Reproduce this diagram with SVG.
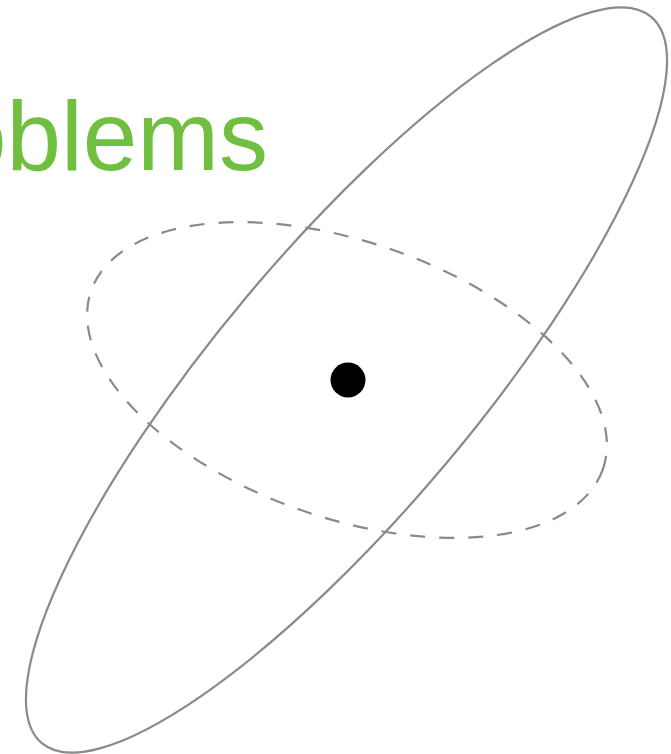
<svg xmlns="http://www.w3.org/2000/svg" width="671" height="754" viewBox="0 0 671 754">
<style>
.outline{fill:none;stroke:#8a8a8a;stroke-width:2.2}
.dashed{stroke-dasharray:15 14}
.title{font-family:"Liberation Sans",Arial,sans-serif;font-size:98px;fill:#70bf41}
</style>
<rect width="671" height="754" fill="#ffffff"/>
<text class="title" x="268" y="170" text-anchor="end">Problems</text>
<g id="outer-ellipse">
<ellipse class="outline" cx="346.5" cy="380" rx="474" ry="130" transform="rotate(-50 346.5 380)"/>
</g>
<g id="dashed-ellipse">
<ellipse class="outline dashed" cx="347" cy="380" rx="271" ry="138" transform="rotate(19.2 347 380)"/>
</g>
<g id="center-dot">
<circle cx="348" cy="380" r="17.5" fill="#000000"/>
</g>
</svg>
